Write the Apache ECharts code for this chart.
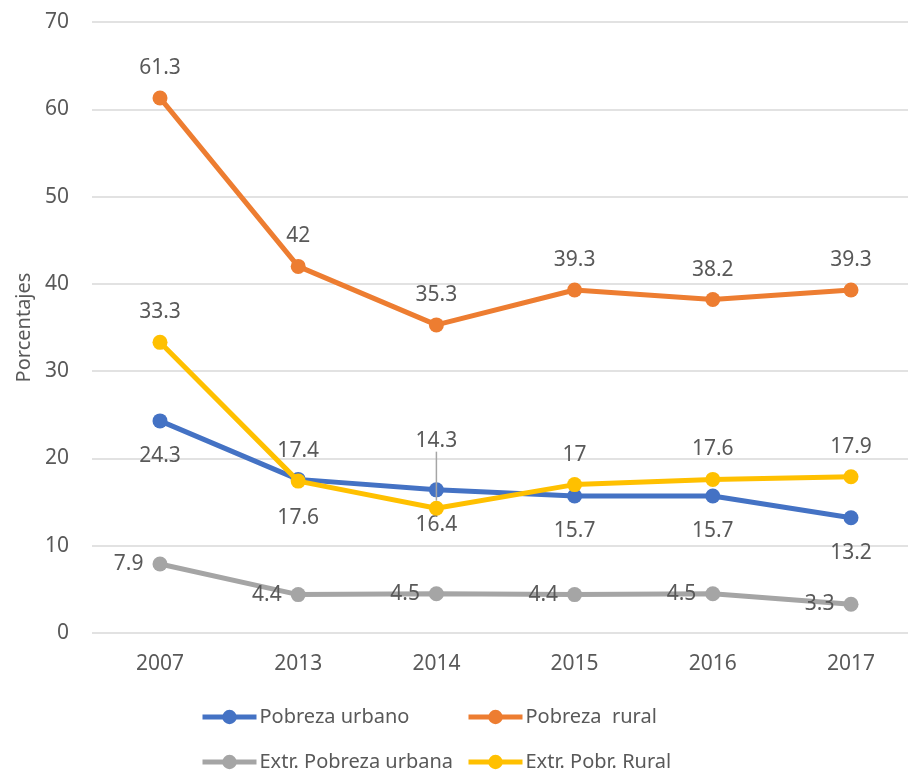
<!DOCTYPE html>
<html>
<head>
<meta charset="utf-8">
<script src="https://cdn.jsdelivr.net/npm/echarts@6/dist/echarts.min.js"></script>
<style>
  html, body { margin: 0; padding: 0; background: #ffffff; }
  #chart { width: 908px; height: 773px; }
</style>
</head>
<body>
<div id="chart"></div>
<script>
// Años del eje horizontal
const years = ['2007', '2013', '2014', '2015', '2016', '2017'];

// Porcentajes por serie
const pobrezaUrbano = [24.3, 17.6, 16.4, 15.7, 15.7, 13.2];
const pobrezaRural = [61.3, 42, 35.3, 39.3, 38.2, 39.3];
const extrPobrezaUrbana = [7.9, 4.4, 4.5, 4.4, 4.5, 3.3];
const extrPobrRural = [33.3, 17.4, 14.3, 17, 17.6, 17.9];

const seriesNames = ['Pobreza urbano', 'Pobreza  rural', 'Extr. Pobreza urbana', 'Extr. Pobr. Rural'];
const seriesColors = ['#4472C4', '#ED7D31', '#A5A5A5', '#FFC000'];

const FONT = 'Noto Sans';
const TEXT = '#595959';
const NUM_SIZE = 21;
const TXT_SIZE = 20;

const chart = echarts.init(document.getElementById('chart'), null, { renderer: 'canvas' });

function lineSeries(idx, values, labelPos, labelDist, overrides, layout) {
  const data = values.map((v, i) => {
    const o = overrides && overrides[i];
    return o ? Object.assign({ value: v }, o) : v;
  });
  const s = {
    name: seriesNames[idx],
    type: 'line',
    xAxisIndex: 1,
    yAxisIndex: 1,
    data: data,
    symbol: 'circle',
    symbolSize: 15,
    color: seriesColors[idx],
    lineStyle: { width: 5, color: seriesColors[idx] },
    itemStyle: { color: seriesColors[idx] },
    label: {
      show: true,
      position: labelPos,
      distance: labelDist,
      fontFamily: FONT,
      fontSize: NUM_SIZE,
      color: TEXT
    },
    emphasis: { disabled: true },
    animation: false,
    z: 2 + idx
  };
  if (layout) s.labelLayout = layout;
  return s;
}

function legendAt(idx, left, top) {
  return {
    data: [{
      name: seriesNames[idx],
      lineStyle: { width: 5, color: seriesColors[idx] }
    }],
    left: left,
    top: top,
    itemWidth: 54,
    itemHeight: 18,
    itemGap: 0,
    padding: 0,
    textStyle: { fontFamily: FONT, fontSize: TXT_SIZE, color: TEXT, padding: [0, 0, 0, -2] },
    selectedMode: false
  };
}

chart.setOption({
  backgroundColor: '#ffffff',
  animation: false,
  grid: [
    // plot frame with the horizontal gridlines
    { left: 92, right: 0, top: 22, height: 611, containLabel: false },
    // data area, from the first to the last category centre
    { left: 160, width: 691, top: 22, height: 611, containLabel: false }
  ],
  legend: [
    legendAt(0, 200, 707),
    legendAt(1, 466, 707),
    legendAt(2, 200, 752),
    legendAt(3, 466, 752)
  ],
  xAxis: [
    { type: 'value', gridIndex: 0, show: false, min: 0, max: 1 },
    {
      type: 'category',
      gridIndex: 1,
      data: years,
      boundaryGap: false,
      axisLine: { show: false },
      axisTick: { show: false },
      splitLine: { show: false },
      axisLabel: { fontFamily: FONT, fontSize: NUM_SIZE, color: TEXT, margin: 21 }
    }
  ],
  yAxis: [
    {
      type: 'value',
      gridIndex: 0,
      min: 0,
      max: 70,
      interval: 10,
      name: 'Porcentajes',
      nameLocation: 'middle',
      nameGap: 58,
      nameTextStyle: { fontFamily: FONT, fontSize: TXT_SIZE, color: TEXT },
      axisLine: { show: false },
      axisTick: { show: false },
      axisLabel: { fontFamily: FONT, fontSize: NUM_SIZE, color: TEXT, margin: 23 },
      splitLine: { lineStyle: { color: '#D9D9D9', width: 1.5 } }
    },
    {
      type: 'value',
      gridIndex: 1,
      min: 0,
      max: 70,
      interval: 10,
      show: false,
      splitLine: { show: false }
    }
  ],
  series: [
    lineSeries(0, pobrezaUrbano, 'bottom', 17, {
      1: { label: { offset: [0, 4] } }
    }),
    lineSeries(1, pobrezaRural, 'top', 12),
    lineSeries(2, extrPobrezaUrbana, 'left', 9),
    lineSeries(3, extrPobrRural, 'top', 12, {
      1: { label: { offset: [0, -15] } },
      2: { labelLine: { show: true, lineStyle: { color: '#A5A5A5', width: 1.5 } } }
    }, function (params) {
      // the 2014 label sits higher, tied to its point by a guide line
      return params.dataIndex === 2 ? { dy: -37 } : {};
    })
  ]
});
</script>
</body>
</html>
